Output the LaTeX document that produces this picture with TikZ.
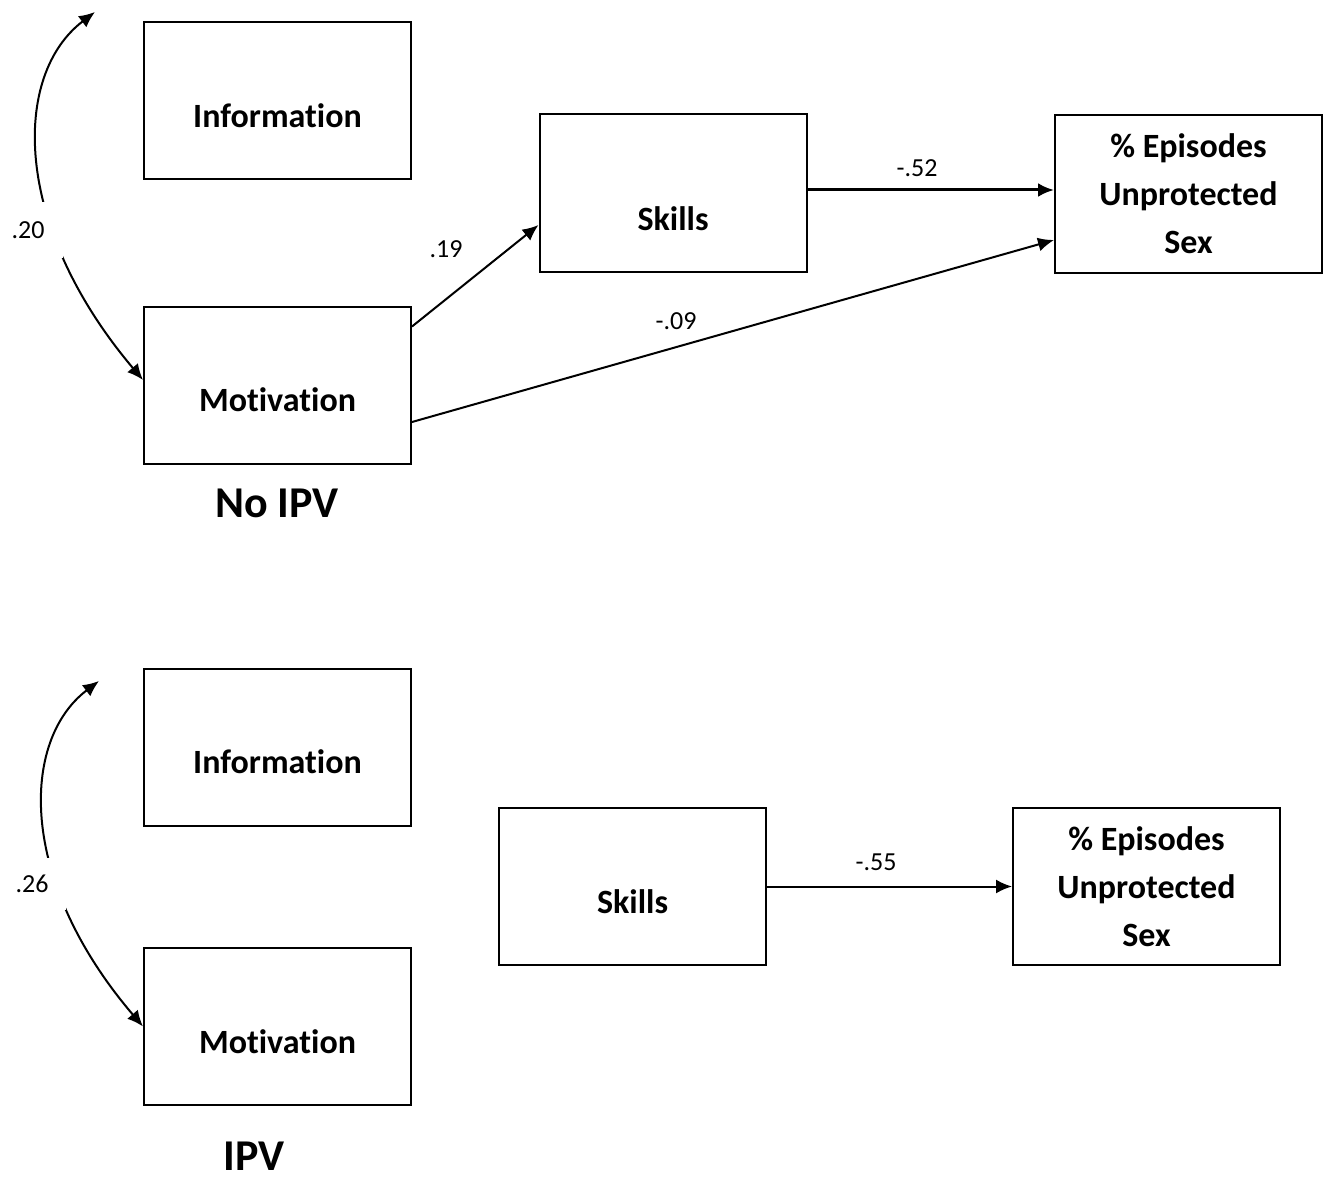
\documentclass[tikz,border=0pt]{standalone}
\usepackage{fontspec}
\setmainfont{Carlito}[Ligatures=NoCommon]
\usetikzlibrary{arrows.meta}

\tikzset{
  varbox/.style={draw,line width=1pt,inner sep=0pt,minimum width=133.5pt,minimum height=78.5pt,
    font=\fontsize{17}{24}\selectfont\bfseries},
  coef/.style={inner sep=1pt,font=\fontsize{13}{15}\selectfont},
  path/.style={line width=1pt,-{Latex[length=8pt,width=7pt]}},
  title/.style={inner sep=0pt,font=\fontsize{22}{26}\selectfont\bfseries}
}

\begin{document}
\begin{tikzpicture}[x=0.5pt,y=-0.5pt]
\useasboundingbox (0,0) rectangle (1331,1182);
% single-line boxes: name / x / y / drop of the text / text
\foreach \nm/\x/\y/\drop/\t in {
  infoA/277.5/100.5/26.9pt/Information,
  motA/277.5/385/26.9pt/Motivation,
  skillsA/673/193/37.9pt/Skills,
  infoB/277.5/747/26.9pt/Information,
  motB/277.5/1026.5/26.9pt/Motivation,
  skillsB/632.5/886.5/26.9pt/Skills
}
\node at(\x,\y)[varbox,text height=\drop,text depth=0pt](\nm){\t};
\node at(1188.5,194)[varbox,align=center](epA){\% Episodes\\Unprotected\\Sex};
\node at(1146.5,886.5)[varbox,align=center](epB){\% Episodes\\Unprotected\\Sex};

% No IPV
\coordinate (tipA) at (95,12);
\draw[line width=1pt,{Latex[length=8pt,width=7pt]}-{Latex[length=8pt,width=7pt]}]
  (tipA) .. controls (12,75) and (12,225) .. ([yshift=2.5pt]motA.west);
\node at(28,230)[coef,fill=white,minimum width=35pt,minimum height=28pt](r20){.20};
\draw[path] ([yshift=-10.5pt]motA.north east) -- ([yshift=-16pt]skillsA.west);
\draw[path,line width=1.5pt] ([yshift=1.5pt]skillsA.east) -- ([yshift=1.5pt]skillsA.east -| epA.west);
\draw[path] ([yshift=-18.5pt]motA.east) -- ([yshift=-23pt]epA.west);
\node at(446,249)[coef](b19){.19};
\node at(917,168)[coef](b52){-.52};
\node at(676,321)[coef](b09){-.09};
\node at(277,503)[title](tA){No IPV};

% IPV
\coordinate (tipB) at (99,681);
\draw[line width=1pt,{Latex[length=8pt,width=7pt]}-{Latex[length=8pt,width=7pt]}]
  (tipB) .. controls (21,740) and (17,879) .. (motB.west);
\node at(32,884)[coef,fill=white,minimum width=34pt,minimum height=26pt](r26){.26};
\draw[path] (skillsB.east) -- (skillsB.east -| epB.west);
\node at(876,862)[coef](b55){-.55};
\node at(254,1156)[title](tB){IPV};
\end{tikzpicture}
\end{document}
